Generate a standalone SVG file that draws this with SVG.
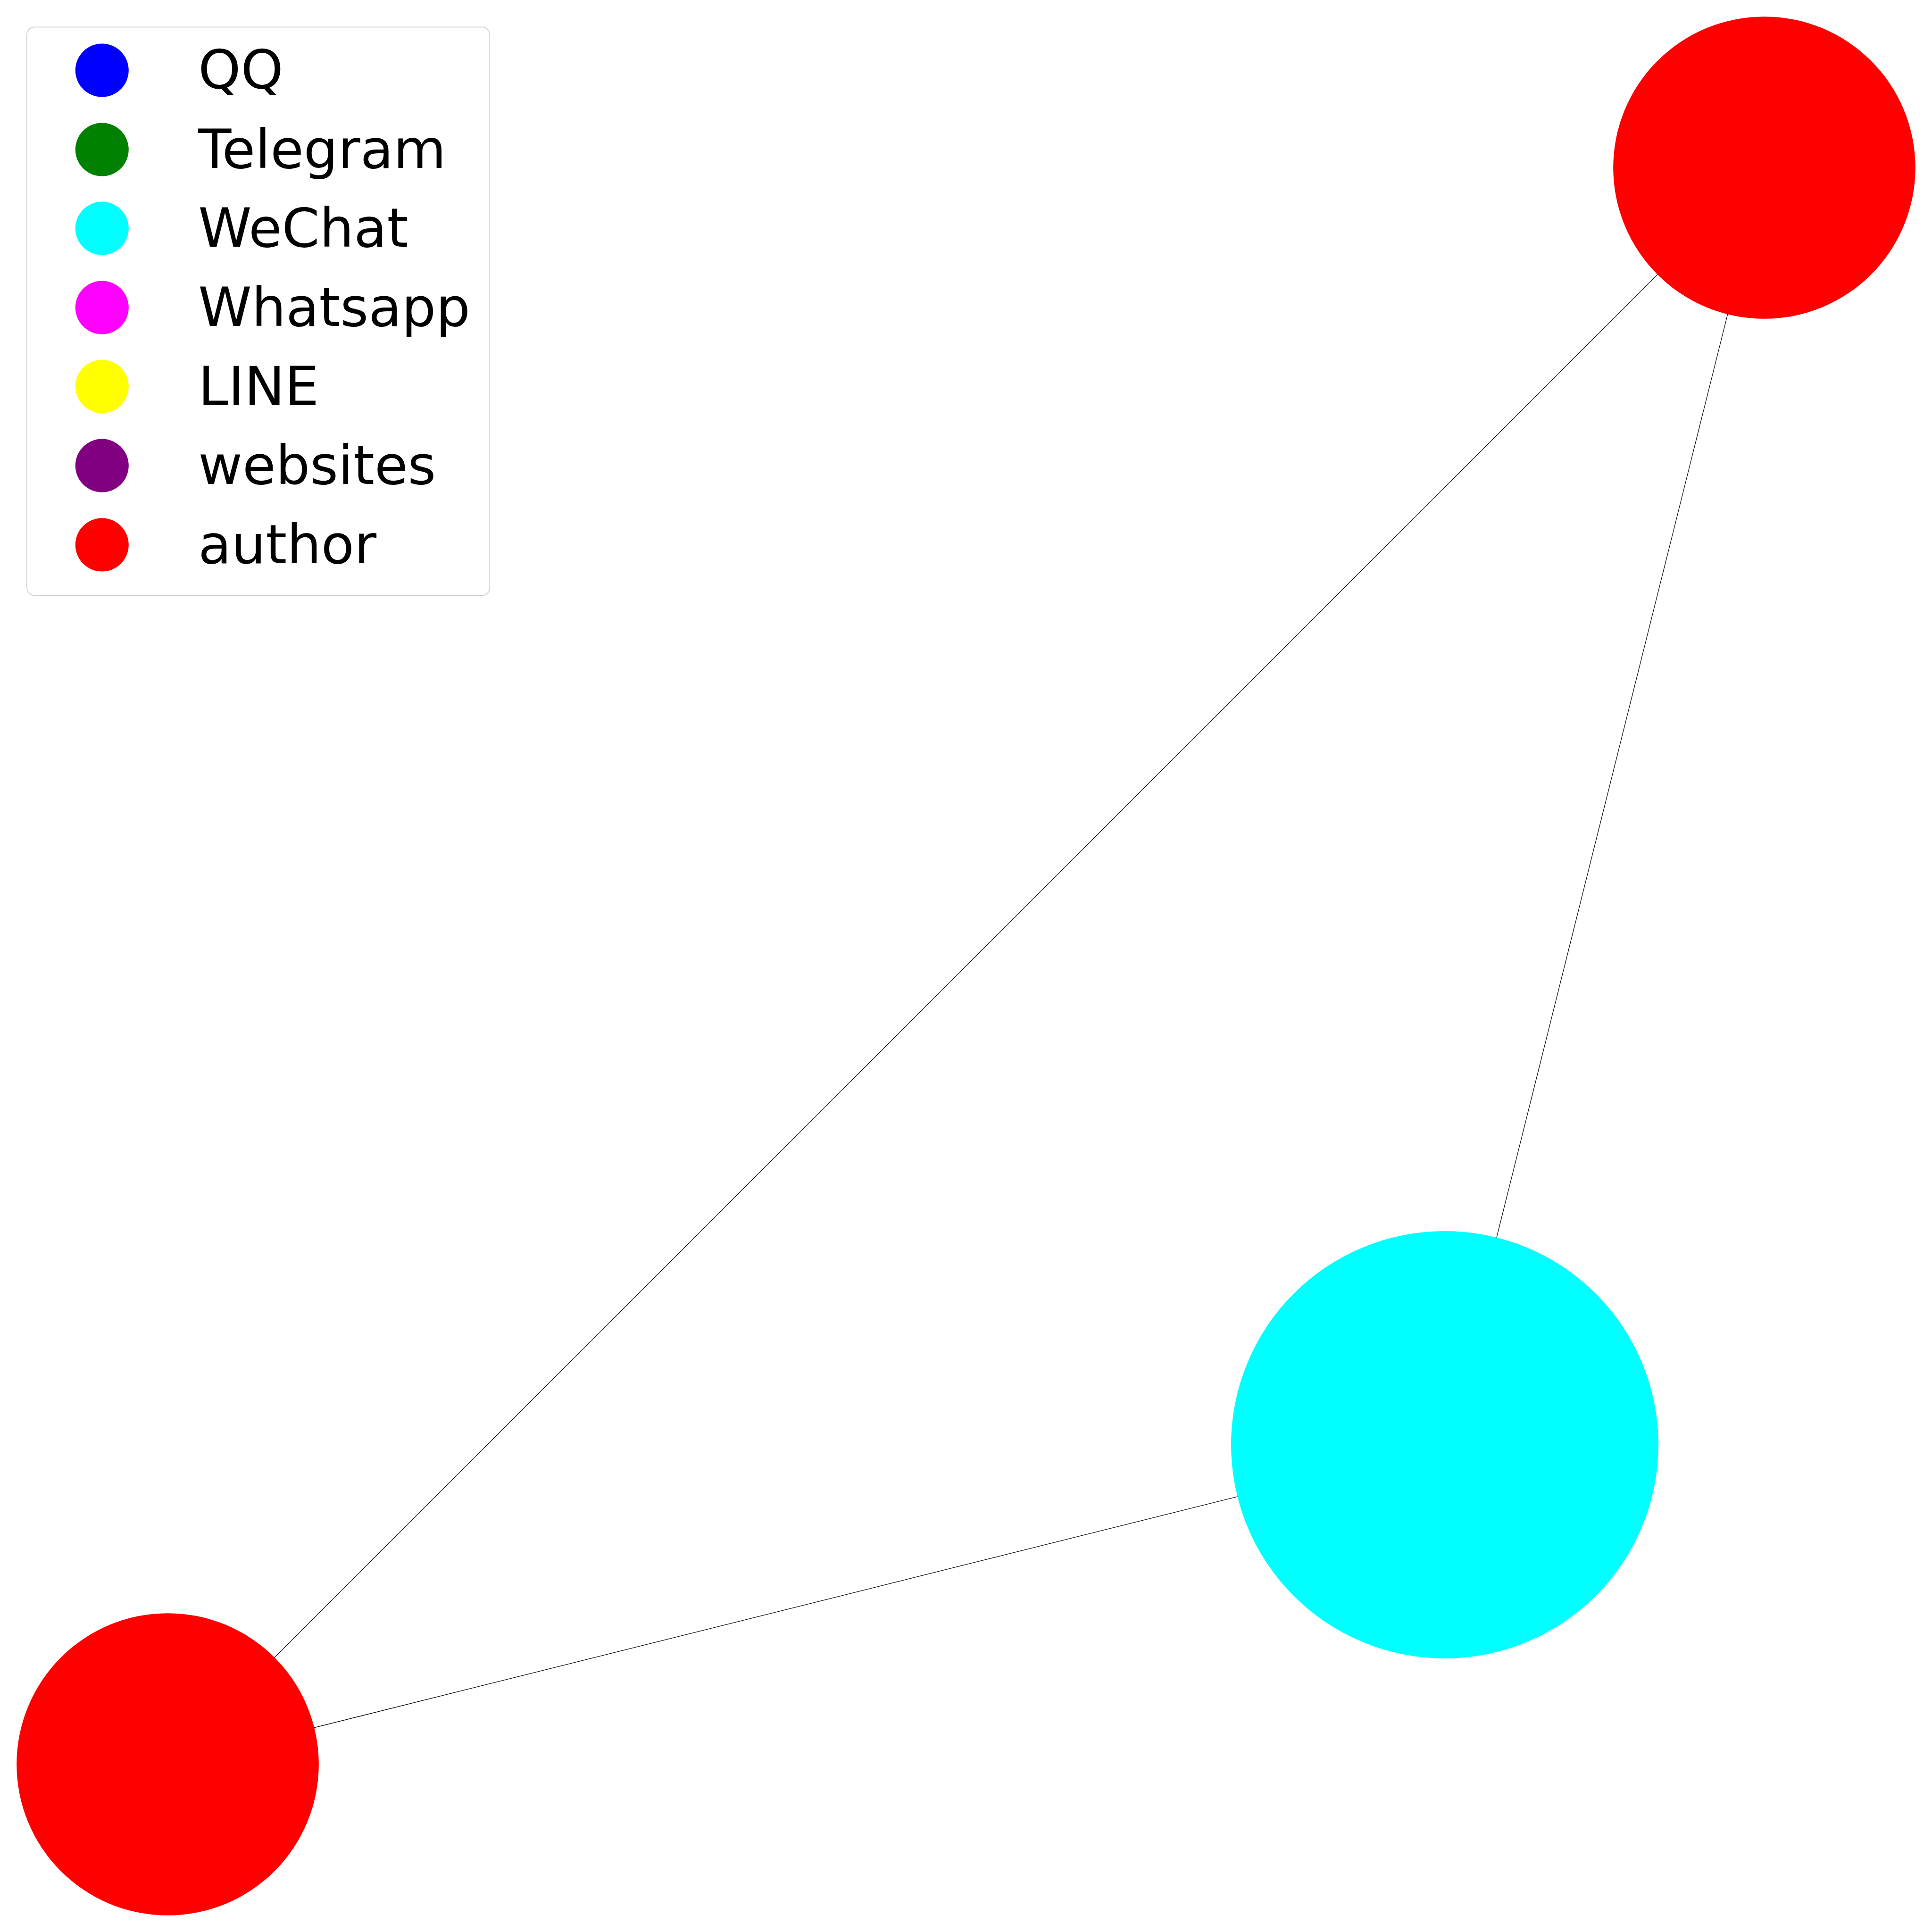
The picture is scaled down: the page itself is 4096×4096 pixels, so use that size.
<svg xmlns="http://www.w3.org/2000/svg" width="4096" height="4096" viewBox="0 0 4096 4096">
<style>
.edge{stroke:#000;stroke-width:1.5;fill:none}
.lt{font-family:"DejaVu Sans",sans-serif;font-size:140px;fill:#000}
</style>
<rect width="4096" height="4096" fill="#fff"/>
<g transform="scale(0.8192)">
<g id="edges">
<line class="edge" x1="4566" y1="434" x2="434" y2="4566"/>
<line class="edge" x1="4566" y1="434" x2="3739" y2="3739"/>
<line class="edge" x1="3739" y1="3739" x2="434" y2="4566"/>
</g>
<g id="node-author-1"><circle cx="4566" cy="434" r="391" fill="#ff0000"/></g>
<g id="node-wechat"><circle cx="3739" cy="3739" r="553" fill="#00ffff"/></g>
<g id="node-author-2"><circle cx="434" cy="4566" r="391" fill="#ff0000"/></g>
<g id="legend">
<rect x="69.5" y="70" width="1198" height="1471" rx="20" ry="20" fill="#fff" fill-opacity="0.8" stroke="#cccccc" stroke-width="2"/>
<circle cx="264" cy="182" r="69" fill="#0000ff"/>
<text class="lt" x="513" y="230">QQ</text>
<circle cx="264" cy="387" r="69" fill="#008000"/>
<text class="lt" x="513" y="435">Telegram</text>
<circle cx="264" cy="591" r="69" fill="#00ffff"/>
<text class="lt" x="513" y="639">WeChat</text>
<circle cx="264" cy="796" r="69" fill="#ff00ff"/>
<text class="lt" x="513" y="844">Whatsapp</text>
<circle cx="264" cy="1000" r="69" fill="#ffff00"/>
<text class="lt" x="513" y="1048">LINE</text>
<circle cx="264" cy="1205" r="69" fill="#800080"/>
<text class="lt" x="513" y="1253">websites</text>
<circle cx="264" cy="1410" r="69" fill="#ff0000"/>
<text class="lt" x="513" y="1458">author</text>
</g>
</g>
</svg>
